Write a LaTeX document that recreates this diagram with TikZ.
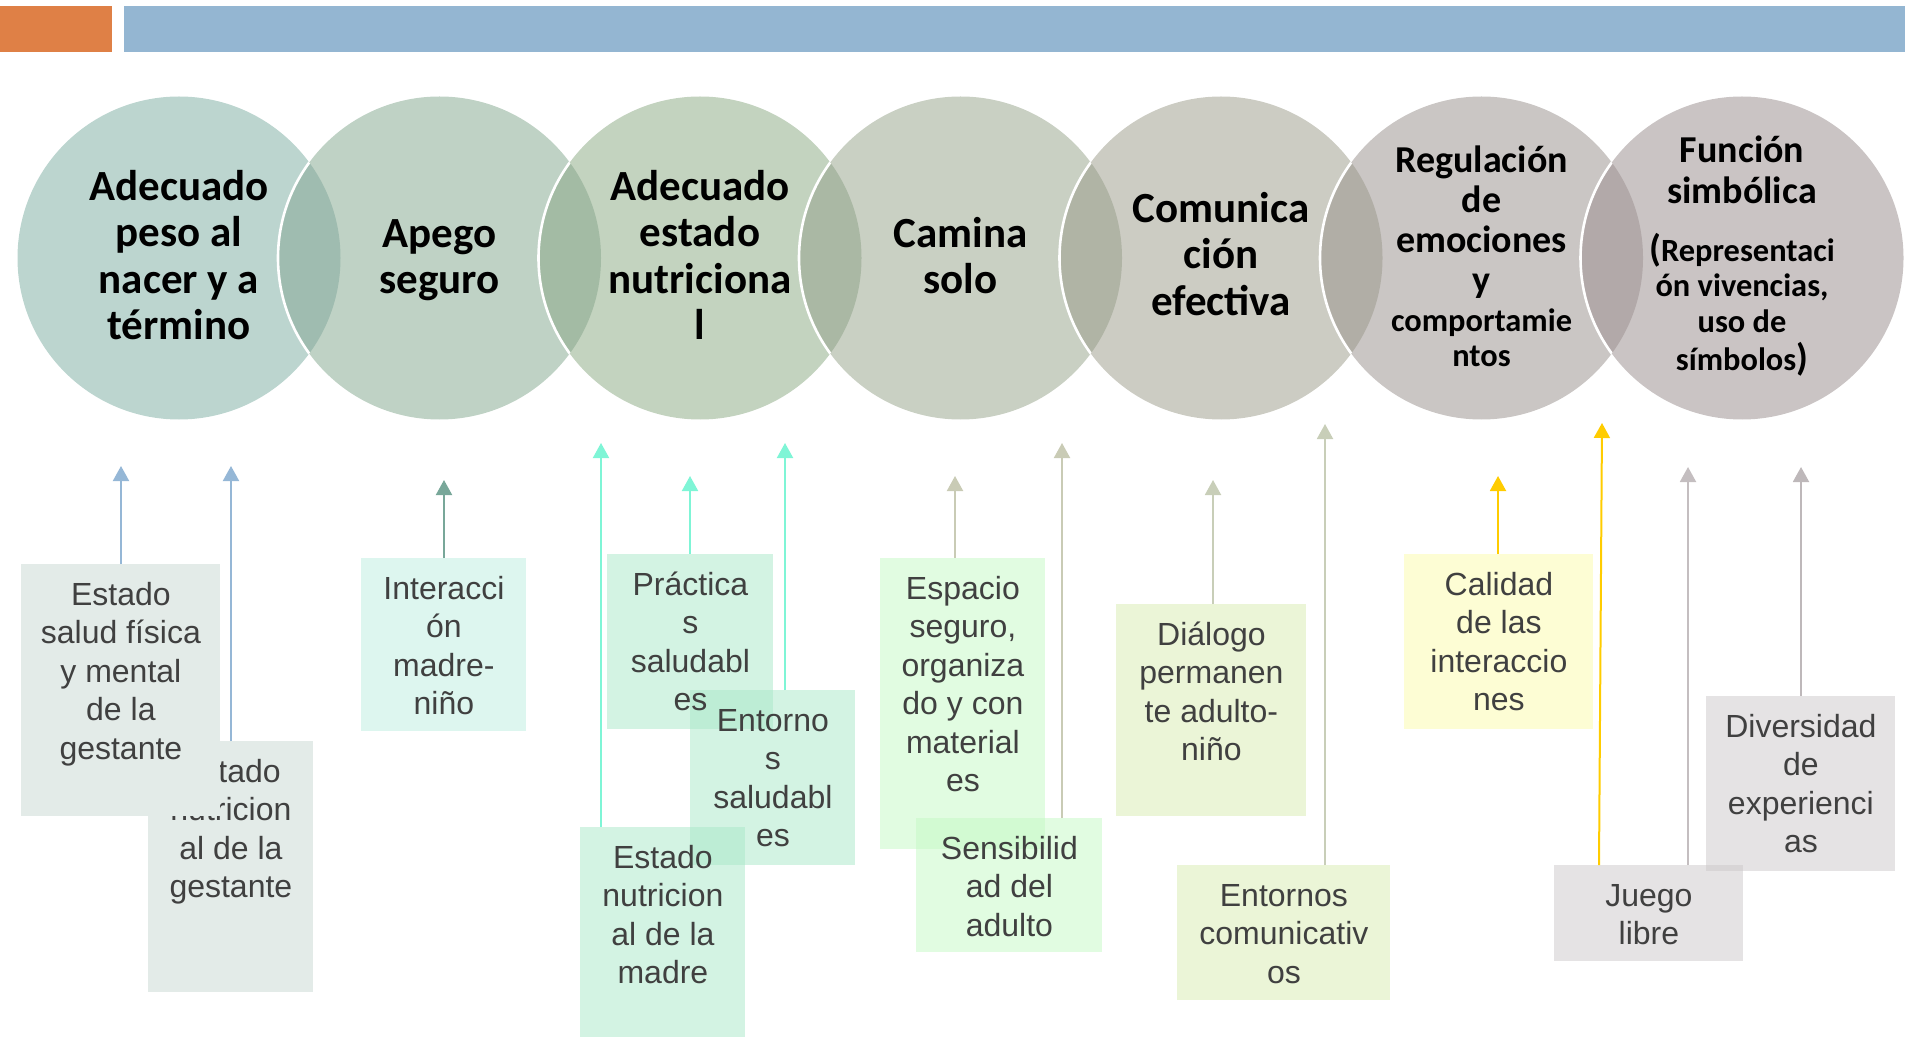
\documentclass[tikz,border=0pt]{standalone}
\usepackage{fontspec}
\setmainfont{Liberation Sans}
\newfontfamily\cfont{Carlito}
\usetikzlibrary{arrows.meta}
\definecolor{orangebar}{HTML}{DF8046}
\definecolor{bluebar}{HTML}{94B6D2}
\definecolor{cc1}{HTML}{BCD5CF}
\definecolor{cc2}{HTML}{BFD2C5}
\definecolor{cc3}{HTML}{C3D3BF}
\definecolor{cc4}{HTML}{C9D0C3}
\definecolor{cc5}{HTML}{CCCCC3}
\definecolor{cc6}{HTML}{CAC6C4}
\definecolor{cc7}{HTML}{CAC4C4}
\definecolor{ll1}{HTML}{9FBCB0}
\definecolor{ll2}{HTML}{A3BBA4}
\definecolor{ll3}{HTML}{AAB8A4}
\definecolor{ll4}{HTML}{B0B4A5}
\definecolor{ll5}{HTML}{B1AEA6}
\definecolor{ll6}{HTML}{B2A9A9}
\definecolor{aBlue}{HTML}{95B7D6}
\definecolor{aTeal}{HTML}{78A799}
\definecolor{aAqua}{HTML}{7FF5D6}
\definecolor{aBeige}{HTML}{C9CBB5}
\definecolor{aOlive}{HTML}{C8CEB8}
\definecolor{aGold}{HTML}{FFCC00}
\definecolor{aGrey}{HTML}{C4BEC0}
\definecolor{aGreyB}{HTML}{BEB8BA}
\definecolor{bxGrey}{HTML}{E3EBE8}
\definecolor{bxMint}{HTML}{DDF6EF}
\definecolor{bxAqua}{RGB}{167,231,199}
\definecolor{bxGreen}{RGB}{195,249,195}
\definecolor{bxOlive}{HTML}{EBF5D7}
\definecolor{bxYellow}{HTML}{FDFDD4}
\definecolor{bxStone}{RGB}{203,199,201}
\definecolor{txt}{HTML}{404040}
\tikzset{
  circ/.style={circle, inner sep=0pt, minimum size=161.5pt, draw=none},
  ctext/.style={font=\cfont\bfseries\fontsize{21.5}{23.25}\selectfont, align=center, inner sep=0pt, anchor=north, text=black},
  cline/.style={font=\cfont\bfseries\fontsize{19}{22}\selectfont, inner sep=0pt, anchor=base, text=black},
  csmall/.style={font=\cfont\bfseries\fontsize{16.2}{19}\selectfont, inner sep=0pt, anchor=base, text=black},
  box/.style={rectangle, inner sep=0pt, anchor=north west, draw=none},
  btext/.style={font=\fontsize{16}{19.25}\selectfont, text=txt, align=center, inner sep=0pt, anchor=north},
  arr/.style={line width=1pt, -{Triangle[width=8pt,length=7.5pt]}},
}
\begin{document}
\begin{tikzpicture}[x=0.5pt,y=-0.5pt]
\useasboundingbox (0,0) rectangle (1905,1037);
% top bars
\fill[orangebar] (0,6) rectangle (112,52);
\fill[bluebar] (124,6) rectangle (1905,52);
% circles
\foreach \i/\x in {1/179,2/439.5,3/700,4/960.5,5/1221,6/1481.5,7/1742}
  \node[circ, fill=cc\i] (c\i) at (\x,258) {};
\foreach \i/\j in {1/2,2/3,3/4,4/5,5/6,6/7}{
  \begin{scope}
    \clip (c\i.center) circle[radius=80.75pt];
    \fill[ll\i] (c\j.center) circle[radius=80.75pt];
    \draw[white, line width=1.3pt] (c\j.center) circle[radius=80.75pt];
  \end{scope}
}
% circle texts
\node[ctext] (t1) at (179,166) {\rule{0pt}{17pt}Adecuado\\peso al\\nacer y a\\término};
\node[ctext] (t2) at (439.5,213) {\rule{0pt}{17pt}Apego\\seguro};
\node[ctext] (t3) at (700,166) {\rule{0pt}{17pt}Adecuado\\estado\\nutriciona\\l};
\node[ctext] (t4) at (960.5,213) {\rule{0pt}{17pt}Camina\\solo};
\node[ctext] (t5) at (1221,188) {\rule{0pt}{17pt}Comunica\\ción\\efectiva};
\node[cline] (t6a) at (1481.5,173) {Regulación};
\node[cline] (t6b) at (1481.5,213) {de};
\node[cline] (t6c) at (1481.5,253) {emociones};
\node[cline] (t6d) at (1481.5,293) {y};
\node[csmall] (t6e) at (1481.5,332) {comportamie};
\node[csmall] (t6f) at (1481.5,367) {ntos};
\node[cline] (t7a) at (1742,163) {Función};
\node[cline] (t7b) at (1742,204) {simbólica};
\node[csmall] (t7c) at (1742,262) {{\fontsize{19}{19}\selectfont(}Representaci};
\node[csmall] (t7d) at (1742,297) {ón vivencias,};
\node[csmall] (t7e) at (1742,333) {uso de};
\node[csmall] (t7f) at (1742,371) {símbolos{\fontsize{19}{19}\selectfont)}};
% boxes
\node[box, fill=bxGrey, minimum width=82.5pt, minimum height=125.5pt] (b2) at (148,741) {};
\node[btext] (b2t) at ([yshift=-5.5pt]b2.north) {\rule{0pt}{15pt}Estado\\nutricion\\al de la\\gestante};
\node[box, fill=bxGrey, minimum width=99.5pt, minimum height=126pt] (b1) at (21,564) {};
\node[btext] (b1t) at ([yshift=-5.5pt]b1.north) {\rule{0pt}{15pt}Estado\\salud física\\y mental\\de la\\gestante};
\node[box, fill=bxMint, minimum width=82.5pt, minimum height=86.5pt] (b3) at (361,558) {};
\node[box, fill=bxAqua, fill opacity=0.5, minimum width=83pt, minimum height=87.5pt] (b4) at (607,554) {};
\node[box, fill=bxAqua, fill opacity=0.5, minimum width=82.5pt, minimum height=87.5pt] (b5) at (690,690) {};
\node[box, fill=bxAqua, fill opacity=0.5, minimum width=82.5pt, minimum height=105pt] (b6) at (580,827) {};
\node[box, fill=bxGreen, fill opacity=0.5, minimum width=82.5pt, minimum height=145.5pt] (b7) at (880,558) {};
\node[box, fill=bxGreen, fill opacity=0.5, minimum width=93pt, minimum height=67pt] (b8) at (916,818) {};
\node[box, fill=bxOlive, minimum width=95pt, minimum height=106pt] (b9) at (1116,604) {};
\node[box, fill=bxOlive, minimum width=106.5pt, minimum height=67.5pt] (b10) at (1177,865) {};
\node[box, fill=bxYellow, minimum width=94.5pt, minimum height=87.5pt] (b11) at (1404,554) {};
\node[box, fill=bxStone, fill opacity=0.5, minimum width=94.5pt, minimum height=48pt] (b12) at (1554,865) {};
\node[box, fill=bxStone, fill opacity=0.5, minimum width=94.5pt, minimum height=87.5pt] (b13) at (1706,696) {};
% box texts
\node[btext] (b3t) at ([yshift=-5.5pt]b3.north) {\rule{0pt}{15pt}Interacci\\ón\\madre-\\niño};
\node[btext] (b4t) at ([yshift=-5.5pt]b4.north) {\rule{0pt}{15pt}Práctica\\s\\saludabl\\es};
\node[btext] (b5t) at ([yshift=-5.5pt]b5.north) {\rule{0pt}{15pt}Entorno\\s\\saludabl\\es};
\node[btext] (b6t) at ([yshift=-5.5pt]b6.north) {\rule{0pt}{15pt}Estado\\nutricion\\al de la\\madre};
\node[btext] (b7t) at ([yshift=-5.5pt]b7.north) {\rule{0pt}{15pt}Espacio\\seguro,\\organiza\\do y con\\material\\es};
\node[btext] (b8t) at ([yshift=-5.5pt]b8.north) {\rule{0pt}{15pt}Sensibilid\\ad del\\adulto};
\node[btext] (b9t) at ([yshift=-5.5pt]b9.north) {\rule{0pt}{15pt}Diálogo\\permanen\\te adulto-\\niño};
\node[btext] (b10t) at ([yshift=-5.5pt]b10.north) {\rule{0pt}{15pt}Entornos\\comunicativ\\os};
\node[btext] (b11t) at ([yshift=-5.5pt]b11.north) {\rule{0pt}{15pt}Calidad\\de las\\interaccio\\nes};
\node[btext] (b12t) at ([yshift=-5.5pt]b12.north) {\rule{0pt}{15pt}Juego\\libre};
\node[btext] (b13t) at ([yshift=-5.5pt]b13.north) {\rule{0pt}{15pt}Diversidad\\de\\experienci\\as};
% arrow tips
\coordinate (p1) at (121,466);
\coordinate (p2) at (231,466);
\coordinate (p3) at (444,480);
\coordinate (p4) at (690,476);
\coordinate (p5) at (785,443);
\coordinate (p6) at (601,443);
\coordinate (p7) at (955,476);
\coordinate (p8) at (1062,443);
\coordinate (p9) at (1213,480);
\coordinate (p10) at (1325,424);
\coordinate (p11) at (1498,476);
\coordinate (p12) at (1602,423);
\coordinate (p12b) at (1688,467);
\coordinate (p13) at (1801,467);
% arrows
\draw[arr, aBlue] (p1 |- b1.north) -- (p1);
\draw[arr, aBlue] (p2 |- b2.north) -- (p2);
\draw[arr, aTeal] (p3 |- b3.north) -- (p3);
\draw[arr, aAqua] (p4 |- b4.north) -- (p4);
\draw[arr, aAqua] (p5 |- b5.north) -- (p5);
\draw[arr, aAqua] (p6 |- b6.north) -- (p6);
\draw[arr, aBeige] (p7 |- b7.north) -- (p7);
\draw[arr, aBeige] (p8 |- b8.north) -- (p8);
\draw[arr, aOlive] (p9 |- b9.north) -- (p9);
\draw[arr, aOlive] (p10 |- b10.north) -- (p10);
\draw[arr, aGold] (p11 |- b11.north) -- (p11);
\draw[arr, aGold] (b12.north west) ++(45,0) -- (p12);
\draw[arr, aGrey] (p12b |- b12.north) -- (p12b);
\draw[arr, aGreyB] (p13 |- b13.north) -- (p13);
\end{tikzpicture}
\end{document}
